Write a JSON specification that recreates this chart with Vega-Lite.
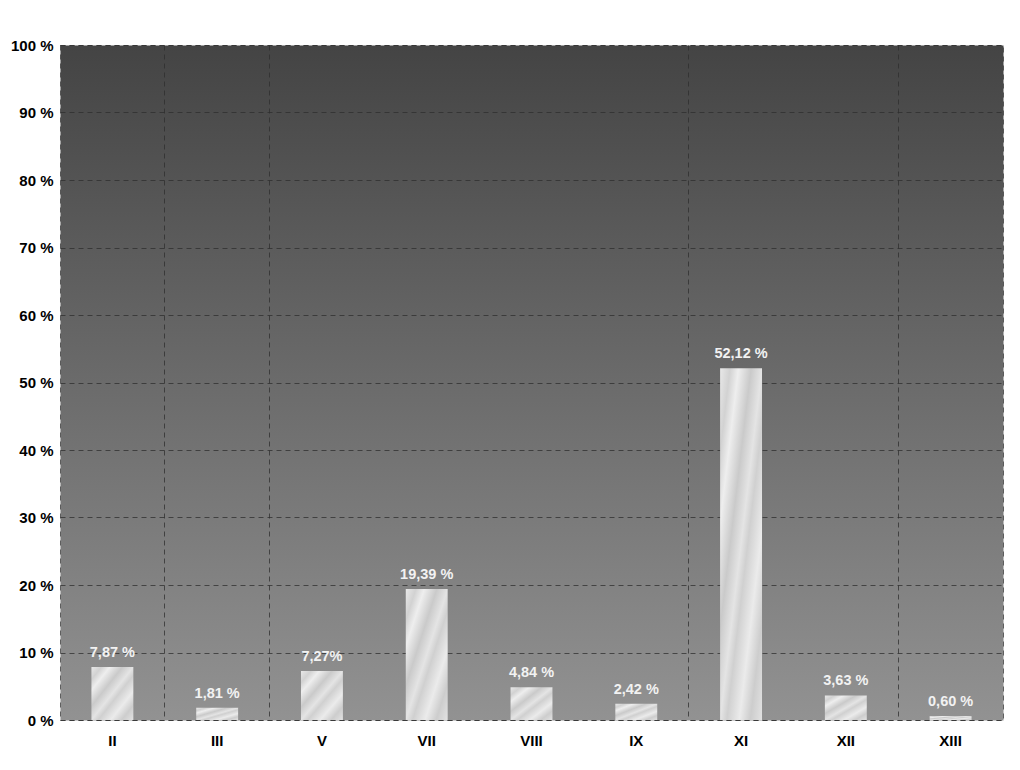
{
  "$schema": "https://vega.github.io/schema/vega-lite/v6.json",
  "width": 943,
  "height": 675,
  "autosize": "none",
  "padding": {"left": 60, "top": 45, "right": 17, "bottom": 50},
  "background": "white",
  "config": {
    "font": "Liberation Sans",
    "view": {
      "stroke": "#333333",
      "strokeOpacity": 0.7,
      "strokeDash": [5, 4],
      "strokeWidth": 1,
      "fill": {
        "gradient": "linear",
        "x1": 0, "y1": 0, "x2": 0, "y2": 1,
        "stops": [
          {"offset": 0, "color": "#444444"},
          {"offset": 0.5, "color": "#6b6b6b"},
          {"offset": 1, "color": "#929292"}
        ]
      }
    }
  },
  "data": {
    "values": [
      {"cat": "II", "value": 7.87, "label": "7,87 %"},
      {"cat": "III", "value": 1.81, "label": "1,81 %"},
      {"cat": "V", "value": 7.27, "label": "7,27%"},
      {"cat": "VII", "value": 19.39, "label": "19,39 %"},
      {"cat": "VIII", "value": 4.84, "label": "4,84 %"},
      {"cat": "IX", "value": 2.42, "label": "2,42 %"},
      {"cat": "XI", "value": 52.12, "label": "52,12 %"},
      {"cat": "XII", "value": 3.63, "label": "3,63 %"},
      {"cat": "XIII", "value": 0.6, "label": "0,60 %"}
    ]
  },
  "encoding": {
    "x": {
      "field": "cat",
      "type": "nominal",
      "sort": null,
      "scale": {"paddingInner": 0, "paddingOuter": 0},
      "axis": {
        "title": null,
        "labelAngle": 0,
        "labelFontWeight": "bold",
        "labelFontSize": 15,
        "labelColor": "#000000",
        "labelPadding": 13,
        "ticks": false,
        "domain": false,
        "grid": true,
        "bandPosition": 0,
        "gridColor": "#2e2e2e",
        "gridDash": [5, 4],
        "gridWidth": 1,
        "gridOpacity": {
          "condition": {"test": "indexof(['III','V','XI','XIII'], datum.value) >= 0", "value": 0.75},
          "value": 0
        }
      }
    }
  },
  "layer": [
    {
      "mark": {
        "type": "bar",
        "width": {"band": 0.4},
        "color": {
          "gradient": "linear",
          "x1": 0, "y1": 0, "x2": 1, "y2": 1,
          "stops": [
            {"offset": 0, "color": "#e8e8e8"},
            {"offset": 0.12, "color": "#d2d2d2"},
            {"offset": 0.22, "color": "#eeeeee"},
            {"offset": 0.37, "color": "#cacaca"},
            {"offset": 0.5, "color": "#e4e4e4"},
            {"offset": 0.58, "color": "#d0d0d0"},
            {"offset": 0.73, "color": "#ebebeb"},
            {"offset": 0.86, "color": "#cdcdcd"},
            {"offset": 1, "color": "#e2e2e2"}
          ]
        }
      },
      "encoding": {
        "y": {
          "field": "value",
          "type": "quantitative",
          "scale": {"domain": [0, 100], "nice": false},
          "axis": {
            "title": null,
            "values": [0, 10, 20, 30, 40, 50, 60, 70, 80, 90, 100],
            "labelExpr": "datum.value + ' %'",
            "labelFontWeight": "bold",
            "labelFontSize": 15,
            "labelColor": "#000000",
            "labelPadding": 7,
            "ticks": false,
            "domain": false,
            "grid": true,
            "gridColor": "#2e2e2e",
            "gridOpacity": 0.75,
            "gridDash": [5, 4],
            "gridWidth": 1
          }
        }
      }
    },
    {
      "mark": {
        "type": "text",
        "color": "#f2f2f2",
        "fontWeight": "bold",
        "fontSize": 14.5,
        "baseline": "alphabetic",
        "dy": -10
      },
      "encoding": {
        "y": {"field": "value", "type": "quantitative"},
        "text": {"field": "label"}
      }
    }
  ]
}
